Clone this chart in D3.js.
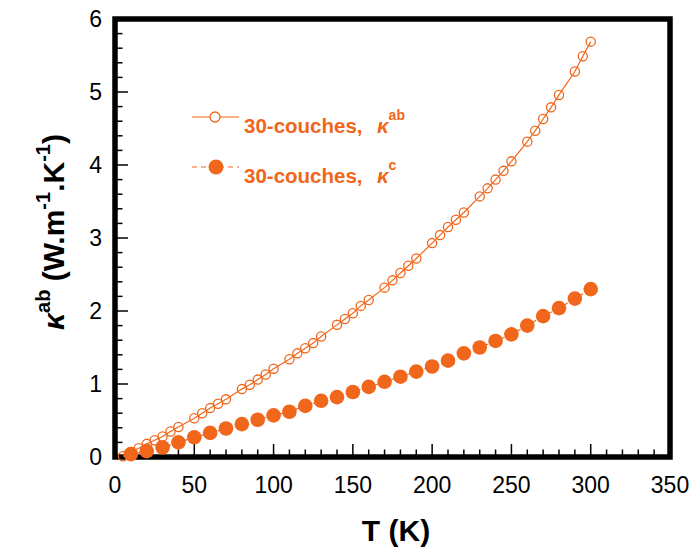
<!DOCTYPE html>
<html><head><meta charset="utf-8">
<script src="https://cdn.jsdelivr.net/npm/d3@7"></script>
<style>body{margin:0;background:#fff}svg{display:block}text{font-family:Arial,"Liberation Sans",sans-serif}</style>
</head><body>
<script>
const openT = [5,10,15,20,25,30,35,40,50,55,60,65,70,80,85,90,95,100,110,115,120,125,130,140,145,150,155,160,170,175,180,185,190,200,205,210,215,220,230,235,240,245,250,260,265,270,275,280,290,295,300];
const openK = [0.01,0.07,0.12,0.18,0.23,0.28,0.35,0.41,0.53,0.60,0.67,0.73,0.79,0.93,0.99,1.06,1.13,1.21,1.34,1.42,1.49,1.56,1.65,1.81,1.89,1.97,2.07,2.15,2.32,2.42,2.52,2.62,2.72,2.93,3.04,3.15,3.25,3.35,3.57,3.68,3.80,3.92,4.05,4.32,4.47,4.63,4.79,4.96,5.28,5.49,5.69];
const fillT = [10,20,30,40,50,60,70,80,90,100,110,120,130,140,150,160,170,180,190,200,210,220,230,240,250,260,270,280,290,300];
const fillK = [0.04,0.08,0.13,0.20,0.27,0.33,0.39,0.45,0.51,0.57,0.62,0.70,0.77,0.82,0.89,0.96,1.03,1.10,1.17,1.24,1.32,1.42,1.50,1.59,1.68,1.80,1.93,2.04,2.17,2.30];
const xTicks = [0,50,100,150,200,250,300,350];
const yTicks = [0,1,2,3,4,5,6];
const seriesNames = ["30-couches,","30-couches,"];
const seriesSups = ["ab","c"];

const W = 693, H = 552;
const C = "#F0661A";
const svg = d3.select("body").append("svg").attr("width",W).attr("height",H);
const x = d3.scaleLinear().domain([0,350]).range([115,670]);
const y = d3.scaleLinear().domain([0,6]).range([457,19]);

// ticks (inward)
const g = svg.append("g");
g.selectAll(".mx").data(d3.range(0,351,10)).join("line")
  .attr("x1",d=>x(d)).attr("x2",d=>x(d))
  .attr("y1",y(0)).attr("y2",d=>y(0)-(d%50===0?13:7.5))
  .attr("stroke","#000").attr("stroke-width",1.5);
g.selectAll(".my").data(d3.range(0,30.01,1).map(d=>d/5)).join("line")
  .attr("y1",d=>y(d)).attr("y2",d=>y(d))
  .attr("x1",x(0)).attr("x2",(d,i)=>x(0)+(i%5===0?13:7.5))
  .attr("stroke","#000").attr("stroke-width",1.5);

// tick labels
g.selectAll(".xl").data(xTicks).join("text")
  .attr("x",d=>x(d)).attr("y",493).attr("text-anchor","middle")
  .attr("font-size",23).text(d=>d);
g.selectAll(".yl").data(yTicks).join("text")
  .attr("x",102).attr("y",d=>y(d)+8).attr("text-anchor","end")
  .attr("font-size",23).text(d=>d);

// frame
svg.append("rect").attr("x",x(0)).attr("y",y(6)).attr("width",x(350)-x(0)).attr("height",y(0)-y(6))
  .attr("fill","none").attr("stroke","#000").attr("stroke-width",5.5);

// data
const openData = openT.map((t,i)=>({t,k:openK[i]}));
const fillData = fillT.map((t,i)=>({t,k:fillK[i]}));
const line = d3.line().x(d=>x(d.t)).y(d=>y(d.k));
svg.append("path").datum(openData).attr("d",line).attr("fill","none").attr("stroke",C).attr("stroke-width",1.2);
svg.append("path").datum(fillData).attr("d",line).attr("fill","none").attr("stroke",C).attr("stroke-width",1.2).attr("stroke-dasharray","5,4");
svg.selectAll(".oc").data(openData).join("circle")
  .attr("cx",d=>x(d.t)).attr("cy",d=>y(d.k)).attr("r",4.6)
  .attr("fill","none").attr("stroke",C).attr("stroke-width",1.3);
svg.selectAll(".fc").data(fillData).join("circle")
  .attr("cx",d=>x(d.t)).attr("cy",d=>y(d.k)).attr("r",7.3).attr("fill",C);

// legend
const leg = svg.append("g");
[117,167].forEach((ly,i)=>{
  leg.append("line").attr("x1",192).attr("x2",239).attr("y1",ly).attr("y2",ly)
    .attr("stroke",C).attr("stroke-width",1.2).attr("stroke-dasharray",i?"5,4":null);
  if(i===0) leg.append("circle").attr("cx",215).attr("cy",ly).attr("r",5).attr("fill","#fff").attr("stroke",C).attr("stroke-width",1.3);
  else leg.append("circle").attr("cx",216).attr("cy",ly).attr("r",7.5).attr("fill",C);
  const t = leg.append("text").attr("x",244).attr("y",ly+16).attr("fill",C).attr("font-weight","bold").attr("font-size",20.5);
  t.append("tspan").text(seriesNames[i]);
  t.append("tspan").attr("x",377).attr("font-style","italic").text("\u03ba");
  t.append("tspan").attr("font-size",14).attr("dy",-13).text(seriesSups[i]);
});

// axis titles
svg.append("text").attr("x",396).attr("y",541).attr("text-anchor","middle")
  .attr("font-weight","bold").attr("font-size",30).text("T (K)");
const yt = svg.append("text").attr("transform","translate(64,232) rotate(-90)")
  .attr("text-anchor","middle").attr("font-weight","bold").attr("font-size",30);
yt.append("tspan").attr("font-style","italic").text("\u03ba");
yt.append("tspan").attr("font-size",20).attr("dy",-14).text("ab");
yt.append("tspan").attr("dy",14).text(" (W.m");
yt.append("tspan").attr("font-size",20).attr("dy",-14).text("-1");
yt.append("tspan").attr("dy",14).text(".K");
yt.append("tspan").attr("font-size",20).attr("dy",-14).text("-1");
yt.append("tspan").attr("dy",14).text(")");
</script>
</body></html>
